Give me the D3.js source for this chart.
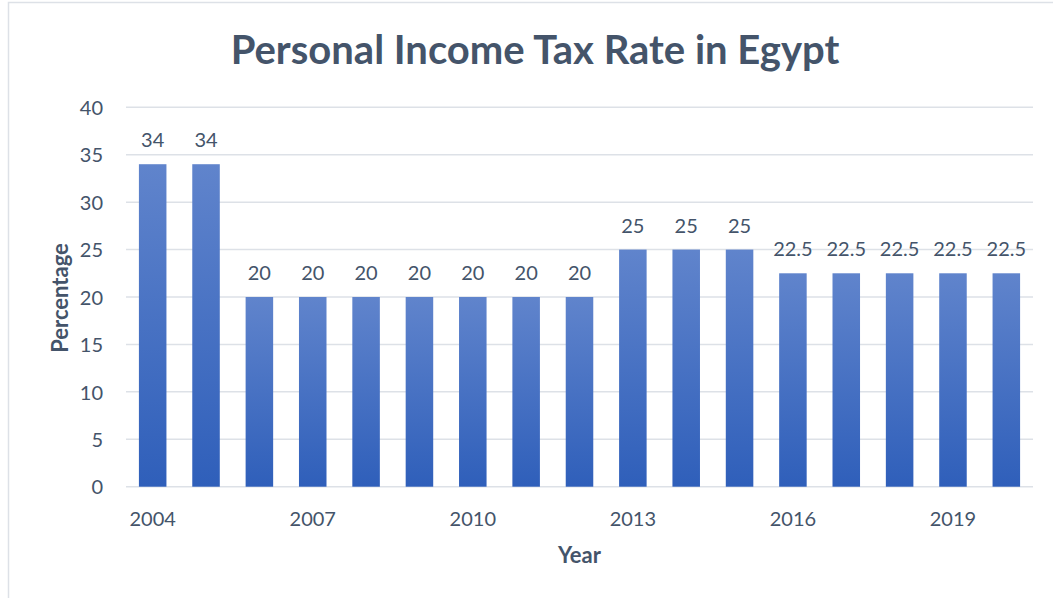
<!DOCTYPE html>
<html>
<head>
<meta charset="utf-8">
<script src="https://cdn.jsdelivr.net/npm/d3@7/dist/d3.min.js"></script>
<style>
  html, body { margin: 0; padding: 0; background: #fff; }
  svg { display: block; font-family: Lato, "Open Sans", sans-serif; }
</style>
</head>
<body>
<svg id="chart" width="1053" height="598"></svg>
<script>
// Personal income tax rate in Egypt, by year
const years = [2004, 2005, 2006, 2007, 2008, 2009, 2010, 2011, 2012,
               2013, 2014, 2015, 2016, 2017, 2018, 2019, 2020];
const rates = [34, 34, 20, 20, 20, 20, 20, 20, 20,
               25, 25, 25, 22.5, 22.5, 22.5, 22.5, 22.5];
const yTicks = [0, 5, 10, 15, 20, 25, 30, 35, 40];
const xTickYears = [2004, 2007, 2010, 2013, 2016, 2019];

const titleText = "Personal Income Tax Rate in Egypt";
const xTitle = "Year";
const yTitle = "Percentage";

const textColor = "#44546a";
const gridColor = "#dde1e7";

const svg = d3.select("#chart");
const plot = { left: 126, right: 1033, top: 107.3, bottom: 486.7 };

// chart frame
svg.append("path")
  .attr("d", "M8.5,598 L8.5,2.5 L1053,2.5")
  .attr("fill", "none")
  .attr("stroke", "#dde1e7")
  .attr("stroke-width", 1.5);

// vertical fill for each bar
const defs = svg.append("defs");
const grad = defs.append("linearGradient")
  .attr("id", "barFill")
  .attr("x1", 0).attr("y1", 0).attr("x2", 0).attr("y2", 1);
grad.append("stop").attr("offset", "0%").attr("stop-color", "#6084cc");
grad.append("stop").attr("offset", "100%").attr("stop-color", "#2f5fba");

const x = d3.scaleBand()
  .domain(years)
  .range([plot.left, plot.right])
  .paddingInner(0.484)
  .paddingOuter(0.242);

const y = d3.scaleLinear()
  .domain([0, 40])
  .range([plot.bottom, plot.top]);

// horizontal gridlines
svg.append("g")
  .selectAll("line")
  .data(yTicks)
  .join("line")
  .attr("x1", plot.left)
  .attr("x2", plot.right)
  .attr("y1", d => y(d))
  .attr("y2", d => y(d))
  .attr("stroke", gridColor)
  .attr("stroke-width", 1.5);

// y-axis labels
const yAxis = d3.axisLeft(y).tickValues(yTicks).tickSize(0).tickPadding(0);
svg.append("g")
  .attr("transform", `translate(${plot.left - 23},0)`)
  .call(yAxis)
  .call(g => g.select(".domain").remove())
  .selectAll("text")
  .attr("fill", textColor)
  .attr("font-size", 20)
  .attr("font-family", "Lato, sans-serif")
  .attr("dy", "0.36em");

// x-axis labels every third year
const xAxis = d3.axisBottom(x).tickValues(xTickYears).tickSize(0).tickPadding(0);
svg.append("g")
  .attr("transform", `translate(0,${plot.bottom + 32})`)
  .call(xAxis)
  .call(g => g.select(".domain").remove())
  .selectAll("text")
  .attr("fill", textColor)
  .attr("font-size", 20)
  .attr("font-family", "Lato, sans-serif")
  .attr("dy", "0.36em");

// bars
svg.append("g")
  .selectAll("rect")
  .data(years)
  .join("rect")
  .attr("x", d => x(d))
  .attr("width", x.bandwidth())
  .attr("y", (d, i) => y(rates[i]))
  .attr("height", (d, i) => y(0) - y(rates[i]))
  .attr("fill", "url(#barFill)");

// value labels
svg.append("g")
  .selectAll("text")
  .data(years)
  .join("text")
  .attr("x", d => x(d) + x.bandwidth() / 2)
  .attr("y", (d, i) => y(rates[i]) - 24)
  .attr("dy", "0.36em")
  .attr("text-anchor", "middle")
  .attr("fill", textColor)
  .attr("font-size", 20)
  .text((d, i) => rates[i]);

// chart title
svg.append("text")
  .attr("x", 535)
  .attr("y", 50)
  .attr("dy", "0.36em")
  .attr("text-anchor", "middle")
  .attr("fill", textColor)
  .attr("font-size", 40)
  .attr("font-weight", "bold")
  .text(titleText);

// axis titles
svg.append("text")
  .attr("x", (plot.left + plot.right) / 2)
  .attr("y", 555)
  .attr("dy", "0.36em")
  .attr("text-anchor", "middle")
  .attr("fill", textColor)
  .attr("font-size", 22)
  .attr("font-weight", "bold")
  .text(xTitle);

svg.append("text")
  .attr("transform", "translate(60,298) rotate(-90)")
  .attr("dy", "0.36em")
  .attr("text-anchor", "middle")
  .attr("fill", textColor)
  .attr("font-size", 22)
  .attr("font-weight", "bold")
  .text(yTitle);
</script>
</body>
</html>
